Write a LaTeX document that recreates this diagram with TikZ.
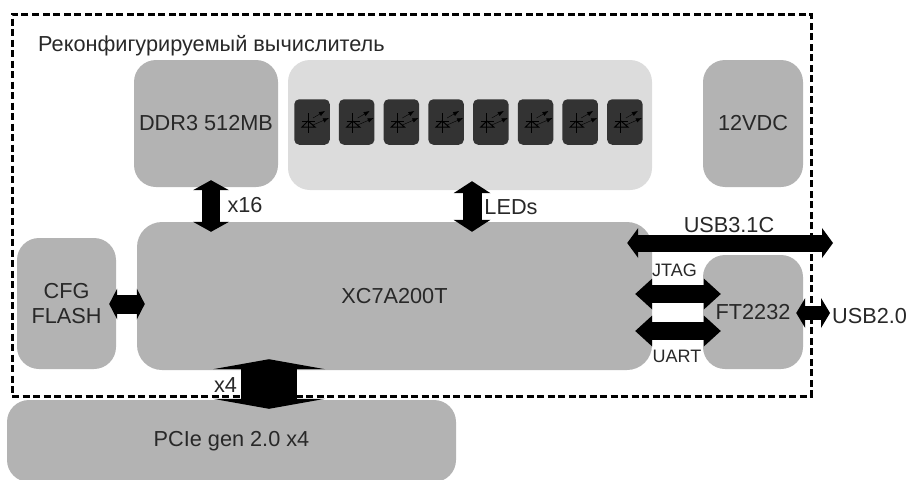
\documentclass[tikz,border=0pt]{standalone}
\usepackage{fontspec}
\setmainfont{Liberation Sans}
\usetikzlibrary{arrows.meta,positioning,calc}
\definecolor{myBlock}{RGB}{179,179,179}
\definecolor{myPanel}{RGB}{220,220,220}
\definecolor{myLed}{RGB}{51,51,51}
\definecolor{myText}{RGB}{40,40,40}
\tikzset{
	gbox/.style={
		fill=myBlock,
		rounded corners=22pt,
		align=center,
		inner sep=0pt,
		text=myText,
		font=\fontsize{21.7}{25}\selectfont
	},
	ledbox/.style={
		fill=myLed,
		rounded corners=5pt,
		inner sep=0pt,
		minimum width=35.5pt,
		minimum height=45.5pt
	},
	tlabel/.style={inner sep=0pt, text=myText, font=\fontsize{21.7}{25}\selectfont},
	slabel/.style={inner sep=0pt, text=myText, font=\fontsize{18}{20}\selectfont},
	barr/.style n args={3}{
		{Triangle[length=#2pt,width=#3pt,line width=0pt]}-{Triangle[length=#2pt,width=#3pt,line width=0pt]},
		line width=#1pt, black
	},
	ledicon/.pic={
		\draw[line width=1pt] (-4,-9) -- (-4,11);
		\draw[line width=1pt] (-10,-1) -- (3,-1);
		\draw[line width=1pt] (-10,5) -- (3,5) -- (-4,-1) -- cycle;
		\draw[-{Latex[length=6pt,width=4.5pt]}, line width=0.4pt] (1,-4) -- (13,-11);
		\draw[-{Latex[length=6pt,width=4.5pt]}, line width=0.4pt] (1,3) -- (17,-4);
	}
}

\begin{document}
\begin{tikzpicture}[x=1pt, y=-1pt]
	\useasboundingbox (0,0) rectangle (909,479);
	% blocks
	\node[gbox, minimum width=144pt, minimum height=127pt] (ddr) at (206,123.5) {DDR3 512MB};
	\node[gbox, fill=myPanel, minimum width=364pt, minimum height=130pt] (panel) at (470,125) {};
	\node[gbox, minimum width=100pt, minimum height=127pt] (vdc) at (753,123.5) {12VDC};
	\node[gbox, rounded corners=25pt, minimum width=515pt, minimum height=148pt] (xc) at (394.5,296) {XC7A200T};
	\node[gbox, minimum width=99pt, minimum height=131pt] (cfg) at (66.5,303.5) {CFG\\FLASH};
	\node[gbox, minimum width=100pt, minimum height=114pt] (ft) at (753,312) {FT2232};
	\node[gbox, minimum width=449pt, minimum height=82pt] (pcie) at (231.5,441) {PCIe gen 2.0 x4};
	% frame
	\node[draw, dashed, line width=3pt, dash pattern=on 7pt off 3.5pt, minimum width=799pt, minimum height=382pt, inner sep=0pt] (board) at (411.5,205) {};
	\node[tlabel, anchor=west] (title) at (38,46) {Реконфигурируемый вычислитель};
	% leds
	\foreach \i in {1,...,8} {
		\node[ledbox] (led\i) at ({312+44.7*(\i-1)},122) {};
		\pic at (led\i) {ledicon};
	}
	% labels
	\node[tlabel] (x16) at (245,205) {x16};
	\node[tlabel] (ledlabel) at (511,207) {LEDs};
	\node[tlabel] (usb3) at (729,225) {USB3.1C};
	\node[slabel] (jtag) at (674.5,270) {JTAG};
	\node[slabel] (uart) at (677,356) {UART};
	\node[tlabel, anchor=west] (usb2) at (832,316) {USB2.0};
	\node[tlabel, fill=white, inner sep=1pt] (x4) at (225.5,385.5) {x4};
	\coordinate (usb3end) at (833,243);
	% links
	\draw[barr={18}{10}{36}] ([xshift=5pt,yshift=7pt]ddr.south) -- ([xshift=-183.5pt,yshift=-10pt]xc.north);
	\draw[barr={19}{12}{37}] ([xshift=2pt,yshift=9pt]panel.south) -- ([xshift=77.5pt,yshift=-10pt]xc.north);
	\draw[barr={19}{8}{31}] ([xshift=-7pt,yshift=-0.5pt]cfg.east) -- ([xshift=8pt,yshift=-8pt]xc.west);
	\draw[barr={17}{11}{30}] ([xshift=-25pt,yshift=53pt]xc.east) -- (usb3end);
	\draw[barr={18}{17}{31}] ([xshift=-17pt,yshift=2pt]xc.east) -- ([xshift=18pt,yshift=18pt]ft.west);
	\draw[barr={18}{17}{31}] ([xshift=-17pt,yshift=-35pt]xc.east) -- ([xshift=18pt,yshift=-19pt]ft.west);
	\draw[barr={14}{9}{30}] ([xshift=-7pt,yshift=-1pt]ft.east) -- ([xshift=-2pt,yshift=3pt]usb2.west);
	\draw[barr={56}{10}{112}] ([xshift=-125.5pt,yshift=11pt]xc.south) -- ([xshift=37.5pt,yshift=-9pt]pcie.north);
\end{tikzpicture}
\end{document}
